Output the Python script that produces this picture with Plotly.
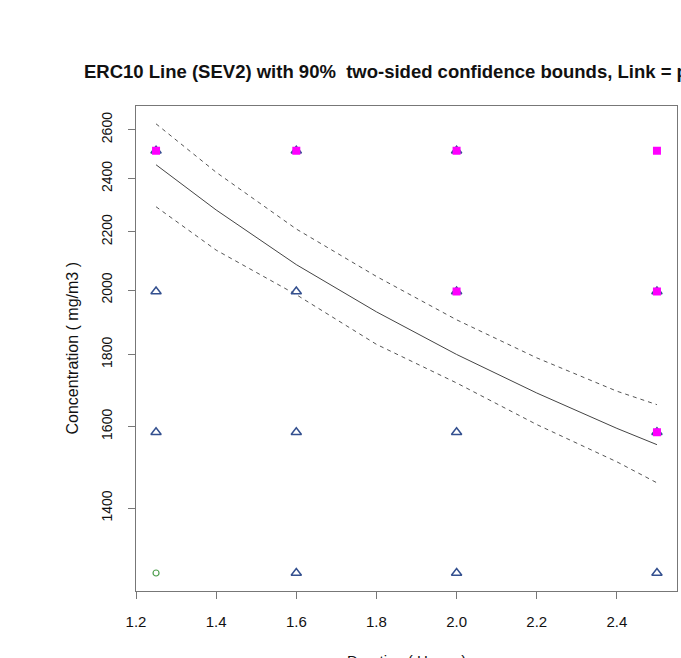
import plotly.graph_objects as go

# ---- data ----
durations = [1.25, 1.6, 2.0, 2.5]
conc_levels = [1258.9, 1584.9, 1995.3, 2511.9]

# severity markers (x, y)
sev0_x = [1.25]
sev0_y = [1258.9]

sev1_x = [1.25, 1.25, 1.25, 1.6, 1.6, 1.6, 1.6, 2.0, 2.0, 2.0, 2.0, 2.5, 2.5, 2.5]
sev1_y = [1584.9, 1995.3, 2511.9, 1258.9, 1584.9, 1995.3, 2511.9,
          1258.9, 1584.9, 1995.3, 2511.9, 1258.9, 1584.9, 1995.3]

sev2_x = [1.25, 1.6, 2.0, 2.5, 2.0, 2.5, 2.5]
sev2_y = [2511.9, 2511.9, 2511.9, 2511.9, 1995.3, 1995.3, 1584.9]

# ERC10 line and 90% bounds
line_x = [1.25, 1.4, 1.6, 1.8, 2.0, 2.2, 2.4, 2.5]
erc_center = [2455, 2280, 2085, 1930, 1800, 1690, 1595, 1553]
erc_upper = [2625, 2425, 2210, 2045, 1905, 1790, 1695, 1658]
erc_lower = [2292, 2135, 1985, 1830, 1718, 1605, 1510, 1459]

x_ticks = [1.2, 1.4, 1.6, 1.8, 2.0, 2.2, 2.4]
x_tick_labels = ["1.2", "1.4", "1.6", "1.8", "2.0", "2.2", "2.4"]
y_ticks = [1400, 1600, 1800, 2000, 2200, 2400, 2600]
y_tick_labels = ["1400", "1600", "1800", "2000", "2200", "2400", "2600"]

title_text = "ERC10 Line (SEV2) with 90%  two-sided confidence bounds, Link = probit"
x_title = "Duration ( Hours )"
y_title = "Concentration ( mg/m3 )"

FONT = "Liberation Sans, Arial, sans-serif"

fig = go.Figure()

fig.add_trace(go.Scatter(x=line_x, y=erc_upper, mode="lines",
                         line=dict(color="#555555", width=1, dash="4px,4px"),
                         showlegend=False, hoverinfo="skip"))
fig.add_trace(go.Scatter(x=line_x, y=erc_lower, mode="lines",
                         line=dict(color="#555555", width=1, dash="4px,4px"),
                         showlegend=False, hoverinfo="skip"))
fig.add_trace(go.Scatter(x=line_x, y=erc_center, mode="lines",
                         line=dict(color="#444444", width=1),
                         showlegend=False))

fig.add_trace(go.Scatter(x=sev0_x, y=sev0_y, mode="markers",
                         marker=dict(symbol="circle-open", size=6, color="#4f9f4f",
                                     line=dict(width=1.2)),
                         showlegend=False))
fig.add_trace(go.Scatter(x=sev1_x, y=sev1_y, mode="markers",
                         marker=dict(symbol="triangle-up-open", size=9, color="#34508f",
                                     line=dict(width=1.5)),
                         showlegend=False))
fig.add_trace(go.Scatter(x=sev2_x, y=sev2_y, mode="markers",
                         marker=dict(symbol="square", size=8, color="#ff00ff",
                                     line=dict(width=0)),
                         showlegend=False))

fig.update_layout(
    width=681, height=658,
    margin=dict(l=136, r=4, t=106, b=67),
    paper_bgcolor="white", plot_bgcolor="white",
    font=dict(family=FONT, size=14, color="#111111"),
    showlegend=False,
    annotations=[
        dict(text="<b>" + title_text + "</b>", xref="paper", yref="paper",
             x=0.5, y=(591 - 71) / 485.0, xanchor="center", yanchor="middle",
             showarrow=False, font=dict(size=18.5, family=FONT, color="#111111")),
        dict(text=x_title, xref="paper", yref="paper",
             x=0.5, y=(591 - 650) / 485.0, xanchor="center", yanchor="top",
             showarrow=False, font=dict(size=15, family=FONT, color="#111111")),
        dict(text=y_title, xref="paper", yref="paper",
             x=(72 - 136) / 541.0, y=0.5, xanchor="center", yanchor="middle",
             textangle=-90, showarrow=False,
             font=dict(size=16, family=FONT, color="#111111")),
    ],
)

fig.update_xaxes(
    range=[1.2, 2.55], tickmode="array", tickvals=x_ticks, ticktext=x_tick_labels,
    showgrid=False, zeroline=False, showline=True, mirror=True,
    linecolor="#777777", linewidth=1,
    ticks="outside", ticklen=7, tickcolor="#777777", tickwidth=1,
    ticklabelstandoff=10,
    tickfont=dict(size=15, family=FONT, color="#111111"),
)
fig.update_yaxes(
    type="log", range=[3.0872, 3.4318], tickmode="array",
    tickvals=y_ticks, ticktext=y_tick_labels, tickangle=-90,
    showgrid=False, zeroline=False, showline=True, mirror=True,
    linecolor="#777777", linewidth=1,
    ticks="outside", ticklen=7, tickcolor="#777777", tickwidth=1,
    ticklabelstandoff=10,
    tickfont=dict(size=14, family=FONT, color="#111111"),
)

fig.write_html("out.html")
